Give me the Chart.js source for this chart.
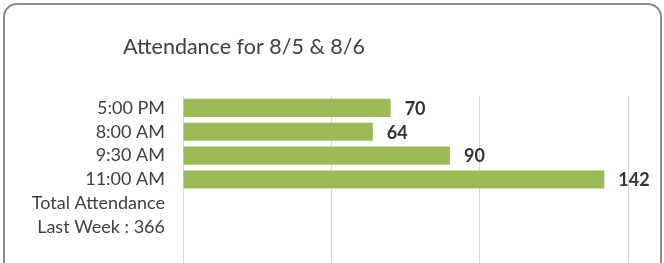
<!DOCTYPE html>
<html>
<head>
<meta charset="utf-8">
<script src="https://cdn.jsdelivr.net/npm/chart.js@4/dist/chart.umd.min.js"></script>
<style>
html,body{margin:0;padding:0;background:#fff;overflow:hidden;width:664px;height:263px;}
#frame{position:absolute;left:3px;top:3px;width:659px;height:300px;border:2px solid #8c8c8c;border-radius:14px;box-sizing:border-box;}
#wrap{position:absolute;left:0;top:0;width:664px;height:263px;}
</style>
</head>
<body>
<div id="frame"></div>
<div id="wrap"><canvas id="c" width="664" height="263"></canvas></div>
<script>
const categories = ["5:00 PM", "8:00 AM", "9:30 AM", "11:00 AM", "Total Attendance", "Last Week : 366", ""];
const attendance = [70, 64, 90, 142, null, null, null];
const xTicks = [0, 50, 100, 150];
const chartTitle = "Attendance for 8/5 & 8/6";
const FONT = 'Lato, "Open Sans", sans-serif';

const titleAndLabels = {
  id: 'titleAndLabels',
  afterDraw(chart) {
    const ctx = chart.ctx;
    ctx.save();
    ctx.font = '21.5px ' + FONT;
    ctx.fillStyle = '#404040';
    ctx.textAlign = 'left';
    ctx.textBaseline = 'alphabetic';
    ctx.fillText(chartTitle, chart.chartArea.left - 60, 54);
    ctx.restore();
  },
  afterDatasetsDraw(chart) {
    const ctx = chart.ctx;
    const meta = chart.getDatasetMeta(0);
    ctx.save();
    ctx.font = 'bold 18px ' + FONT;
    ctx.fillStyle = '#333333';
    ctx.textAlign = 'left';
    ctx.textBaseline = 'middle';
    meta.data.forEach((el, i) => {
      const v = attendance[i];
      if (v === null || v === undefined) return;
      ctx.fillText(String(v), el.x + 14, el.y + 1);
    });
    ctx.restore();
  }
};

new Chart(document.getElementById('c'), {
  type: 'bar',
  data: {
    labels: categories,
    datasets: [{
      data: attendance,
      backgroundColor: '#9bbb59',
      borderWidth: 0,
      categoryPercentage: 0.76,
      barPercentage: 1.0
    }]
  },
  options: {
    indexAxis: 'y',
    responsive: false,
    animation: false,
    layout: { padding: { left: 0, right: 36, top: 96, bottom: 0 } },
    plugins: {
      legend: { display: false },
      tooltip: { enabled: false },
      title: { display: false }
    },
    scales: {
      x: {
        min: 0, max: 150,
        afterBuildTicks(scale) { scale.ticks = xTicks.map(v => ({ value: v })); },
        ticks: { display: false },
        grid: { color: '#d9d9d9', lineWidth: 1, drawTicks: false },
        border: { display: false },
        afterFit(scale) { scale.height = 0; }
      },
      y: {
        grid: { display: false, drawTicks: false },
        border: { display: false },
        ticks: {
          color: '#404040',
          padding: 18,
          autoSkip: false,
          font: { family: FONT, size: 18 }
        },
        afterFit(scale) {
          scale.width = 183;
          scale.paddingTop = 0;
          scale.paddingBottom = 0;
        }
      }
    }
  },
  plugins: [titleAndLabels]
});
</script>
</body>
</html>
